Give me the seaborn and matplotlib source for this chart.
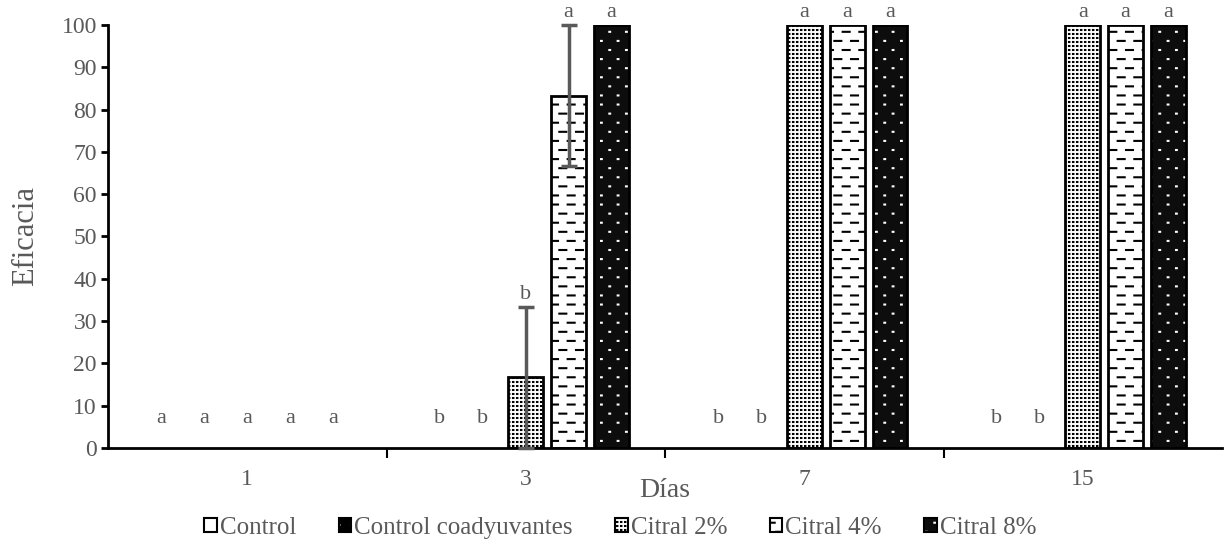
import warnings
warnings.filterwarnings('ignore')
import numpy as np
import pandas as pd
import matplotlib
matplotlib.use('Agg')
import matplotlib.pyplot as plt
import seaborn as sns
from matplotlib import hatch as mhatch
from matplotlib.path import Path
from matplotlib.patches import Rectangle, Patch
from matplotlib.legend_handler import HandlerTuple

# ---------------- data ----------------
days = ['1', '3', '7', '15']
treatments = ['Control', 'Control coadyuvantes', 'Citral 2%', 'Citral 4%', 'Citral 8%']
control = [0, 0, 0, 0]
control_coad = [0, 0, 0, 0]
citral2 = [0, 16.67, 100, 100]
citral4 = [0, 83.33, 100, 100]
citral8 = [0, 100, 100, 100]
control_se = [0, 0, 0, 0]
control_coad_se = [0, 0, 0, 0]
citral2_se = [0, 16.67, 0, 0]
citral4_se = [0, 16.67, 0, 0]
citral8_se = [0, 0, 0, 0]
letters_control = ['a', 'b', 'b', 'b']
letters_coad = ['a', 'b', 'b', 'b']
letters_c2 = ['a', 'b', 'a', 'a']
letters_c4 = ['a', 'a', 'a', 'a']
letters_c8 = ['a', 'a', 'a', 'a']

values = [control, control_coad, citral2, citral4, citral8]
ses = [control_se, control_coad_se, citral2_se, citral4_se, citral8_se]
letters = [letters_control, letters_coad, letters_c2, letters_c4, letters_c8]

df = pd.DataFrame({
    'Días': [d for _ in treatments for d in days],
    'Tratamiento': [t for t in treatments for _ in days],
    'Eficacia': [v for vals in values for v in vals],
})

# ---------------- custom hatch patterns (short strokes on a lattice) ----------------
def make_hatch(char, rows, cols, seg, stagger):
    class _H(mhatch.HatchPatternBase):
        def __init__(self, hatch, density):
            self.on = char in (hatch or '')
            self.num_vertices = rows * cols * 2 if self.on else 0

        def set_vertices_and_codes(self, vertices, codes):
            period = 1.0 / cols
            k = 0
            for r in range(rows):
                y = (r + 0.5) / rows
                off = 0.01 + (period / 2 if (stagger and r % 2) else 0)
                for c in range(cols):
                    x0 = off + c * period
                    vertices[k] = (x0, y)
                    vertices[k + 1] = (x0 + seg, y)
                    codes[k] = Path.MOVETO
                    codes[k + 1] = Path.LINETO
                    k += 2
    return _H

mhatch._hatch_types.append(make_hatch('_', 11, 6, 0.07, True))    # dashes
mhatch._hatch_types.append(make_hatch(':', 11, 6, 0.008, True))   # sparse dots
mhatch._hatch_types.append(make_hatch(';', 25, 25, 0.004, False)) # dense dots
mhatch._hatch_types.append(make_hatch('!', 6, 6, 0.05, True))     # small marks

# ---------------- style ----------------
sns.set_style('white')
plt.rcParams['font.family'] = ['Liberation Serif', 'DejaVu Serif']
plt.rcParams['hatch.linewidth'] = 1.5
TXT = '#595959'

styles = {
    'Control': dict(face='white', hcol='black', hatch=None),
    'Control coadyuvantes': dict(face='black', hcol='white', hatch='!'),
    'Citral 2%': dict(face='white', hcol='black', hatch=';'),
    'Citral 4%': dict(face='white', hcol='black', hatch='_'),
    'Citral 8%': dict(face='#0d0d0d', hcol='white', hatch=':'),
}

fig = plt.figure(figsize=(12.26, 5.47), dpi=100)
ax = fig.add_axes([108 / 1226, 1 - 448 / 547, (1222 - 108) / 1226, (448 - 25) / 547])

sns.barplot(data=df, x='Días', y='Eficacia', hue='Tratamiento', order=days,
            hue_order=treatments, palette=['white'] * 5, errorbar=None,
            width=0.77, gap=0.19, legend=False, ax=ax)

bar_containers = list(ax.containers)
for i, cont in enumerate(bar_containers):
    st = styles[treatments[i]]
    for j, p in enumerate(cont.patches):
        p.set_facecolor(st['face'])
        p.set_edgecolor(st['hcol'])
        p.set_hatch(st['hatch'])
        p.set_linewidth(0)
        x = p.get_x()
        w = p.get_width()
        h = p.get_height()
        if h > 0:
            ax.add_patch(Rectangle((x, p.get_y()), w, h, fill=False,
                                   edgecolor='black', lw=2, zorder=2))
        se = ses[i][j]
        if se > 0:
            ax.errorbar(x + w / 2, h, yerr=se, fmt='none', ecolor=TXT,
                        elinewidth=2.5, capsize=5.5, capthick=2.5, zorder=4,
                        clip_on=False)
        top = h + se
        ylab = max(top + 0.6, 4.8)
        ax.text(x + w / 2, ylab, letters[i][j], ha='center', va='bottom',
                fontsize=16, color=TXT, clip_on=False, zorder=5)

ax.set_ylim(0, 100)
ax.set_xlim(-0.5, 3.5)
ax.set_yticks(np.arange(0, 101, 10))
ax.tick_params(axis='y', labelsize=17, labelcolor=TXT, length=5, width=2,
               color='black', direction='out', left=True, pad=3)
ax.tick_params(axis='x', which='major', labelsize=17, labelcolor=TXT,
               length=0, pad=15)
ax.set_xticks([0.5, 1.5, 2.5], minor=True)
ax.tick_params(axis='x', which='minor', length=7, width=1.5, color='black',
               direction='out', bottom=True)

for s in ['top', 'right']:
    ax.spines[s].set_visible(False)
for s in ['left', 'bottom']:
    ax.spines[s].set_color('black')
    ax.spines[s].set_linewidth(2)

ax.set_xlabel('Días', fontsize=20, color=TXT)
ax.set_ylabel('Eficacia', fontsize=22, color=TXT)
ax.xaxis.set_label_coords(0.5, -0.072)
ax.yaxis.set_label_coords(-0.061, 0.5)

handles = []
for t in treatments:
    st = styles[t]
    handles.append((Patch(facecolor=st['face'], edgecolor=st['hcol'],
                          hatch=st['hatch'], lw=0),
                    Patch(fill=False, edgecolor='black', lw=1.5)))
fig.legend(handles, treatments, loc='center', ncol=5,
           bbox_to_anchor=(0.506, 1 - 528 / 547), frameon=False,
           fontsize=18, labelcolor=TXT, handlelength=0.5, handleheight=0.5,
           handletextpad=0.12, columnspacing=1.7,
           handler_map={tuple: HandlerTuple(ndivide=1, pad=0)})

fig.savefig('out.png', dpi=100)
